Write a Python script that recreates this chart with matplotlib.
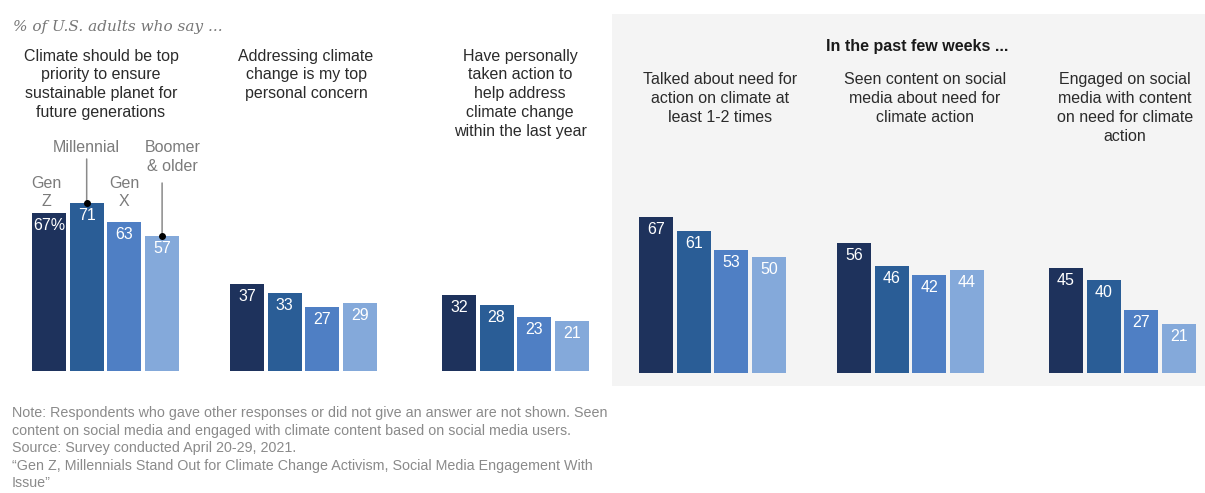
import matplotlib
matplotlib.use("Agg")
import matplotlib.pyplot as plt
import matplotlib.transforms as mtransforms
from matplotlib.patches import Rectangle

# ---------------- data ----------------
generations = ["Gen Z", "Millennial", "Gen X", "Boomer & older"]
gen_labels = ["Gen\nZ", "Millennial", "Gen\nX", "Boomer\n& older"]

left_titles = [
    "Climate should be top\npriority to ensure\nsustainable planet for\nfuture generations",
    "Addressing climate\nchange is my top\npersonal concern",
    "Have personally\ntaken action to\nhelp address\nclimate change\nwithin the last year",
]
left_values = [
    [67, 71, 63, 57],
    [37, 33, 27, 29],
    [32, 28, 23, 21],
]

right_heading = "In the past few weeks ..."
right_titles = [
    "Talked about need for\naction on climate at\nleast 1-2 times",
    "Seen content on social\nmedia about need for\nclimate action",
    "Engaged on social\nmedia with content\non need for climate\naction",
]
right_values = [
    [67, 61, 53, 50],
    [56, 46, 42, 44],
    [45, 40, 27, 21],
]

subtitle = "% of U.S. adults who say ..."
note_lines = [
    "Note: Respondents who gave other responses or did not give an answer are not shown. Seen",
    "content on social media and engaged with climate content based on social media users.",
    "Source: Survey conducted April 20-29, 2021.",
    "\u201cGen Z, Millennials Stand Out for Climate Change Activism, Social Media Engagement With",
    "Issue\u201d",
]

# ---------------- style / layout ----------------
colors = ["#1e325c", "#2a5d96", "#4f7fc4", "#84a9da"]
FONT = "Liberation Sans"
W, H = 1205, 493
group_x0 = [0.0, 5.25, 10.87]
bar_w = 0.9
region_px = 557
LS = 1.33


def fx(px):
    return px / W


def fy(py):
    return 1 - py / H


fig = plt.figure(figsize=(W / 100, H / 100), dpi=100)
fig.patch.set_facecolor("white")

# shaded panel behind the right-hand charts
fig.patches.append(Rectangle((fx(612), fy(386)), (W - 612) / W, (386 - 14) / H,
                             transform=fig.transFigure, facecolor="#f4f4f4",
                             edgecolor="none", zorder=-5))


def make_axes(x_px, base_px, ppu, top_px=130):
    ax = fig.add_axes([fx(x_px), fy(base_px), region_px / W, (base_px - top_px) / H])
    ax.set_xlim(-bar_w / 2, group_x0[-1] + 3 + bar_w / 2)
    ax.set_ylim(0, (base_px - top_px) / ppu)
    ax.axis("off")
    ax.patch.set_alpha(0)
    ax.set_zorder(2)
    return ax


def draw_groups(ax, values, pct_first=False):
    for g, vals in enumerate(values):
        xs = [group_x0[g] + i for i in range(len(vals))]
        ax.bar(xs, vals, width=bar_w, color=colors, linewidth=0)
        for i, (x, v) in enumerate(zip(xs, vals)):
            label = f"{v}%" if (pct_first and g == 0 and i == 0) else str(v)
            ax.annotate(label, (x, v), xytext=(0, -9), textcoords="offset points",
                        ha="center", va="center", color="white",
                        fontsize=11.5, family=FONT)


ax_l = make_axes(32, 371, 2.36)
ax_r = make_axes(639, 373, 2.33)
draw_groups(ax_l, left_values, pct_first=True)
draw_groups(ax_r, right_values)

# generation labels over the first group, with leader lines where needed
trans = mtransforms.blended_transform_factory(ax_l.transData, fig.transFigure)
gen_label_pos = [(-0.08, 192.5), (0.0, 147), (0.0, 192.5), (0.28, 157)]
leader_top = {1: 159, 3: 183}
for i, (txt, (dx, ypx)) in enumerate(zip(gen_labels, gen_label_pos)):
    x = group_x0[0] + i
    v = left_values[0][i]
    ax_l.text(x + dx, fy(ypx), txt, transform=trans, ha="center", va="center",
              fontsize=11.5, family=FONT, color="#7b7b7b", linespacing=1.27)
    if i in leader_top:
        ax_l.annotate("", xy=(x, v), xycoords="data",
                      xytext=(x, fy(leader_top[i])), textcoords=trans,
                      arrowprops=dict(arrowstyle="-", color="#8a8a8a", lw=1.1,
                                      shrinkA=0, shrinkB=0))
        ax_l.plot([x], [v], "o", ms=4, color="black", clip_on=False, zorder=5)

# group titles
for cx, t in zip([101, 306, 520], left_titles):
    fig.text(fx(cx), fy(48.5), t, ha="center", va="top", fontsize=11.5,
             family=FONT, color="#2b2b2b", linespacing=LS)
for cx, t in zip([720, 925, 1125], right_titles):
    fig.text(fx(cx), fy(72), t, ha="center", va="top", fontsize=11.5,
             family=FONT, color="#2b2b2b", linespacing=LS)
fig.text(fx(917), fy(47), right_heading, ha="center", va="center", fontsize=11.5,
         family=FONT, fontweight="bold", color="#1a1a1a")

# subtitle
fig.text(fx(13), fy(27), subtitle, ha="left", va="center", fontsize=11,
         family="DejaVu Serif", fontstyle="italic", color="#777777")

# notes
for k, line in enumerate(note_lines):
    fig.text(fx(12), fy(413 + 17.6 * k), line, ha="left", va="center",
             fontsize=10.3, family=FONT, color="#8a8a8a")

fig.savefig("out.png", dpi=100, facecolor="white")
